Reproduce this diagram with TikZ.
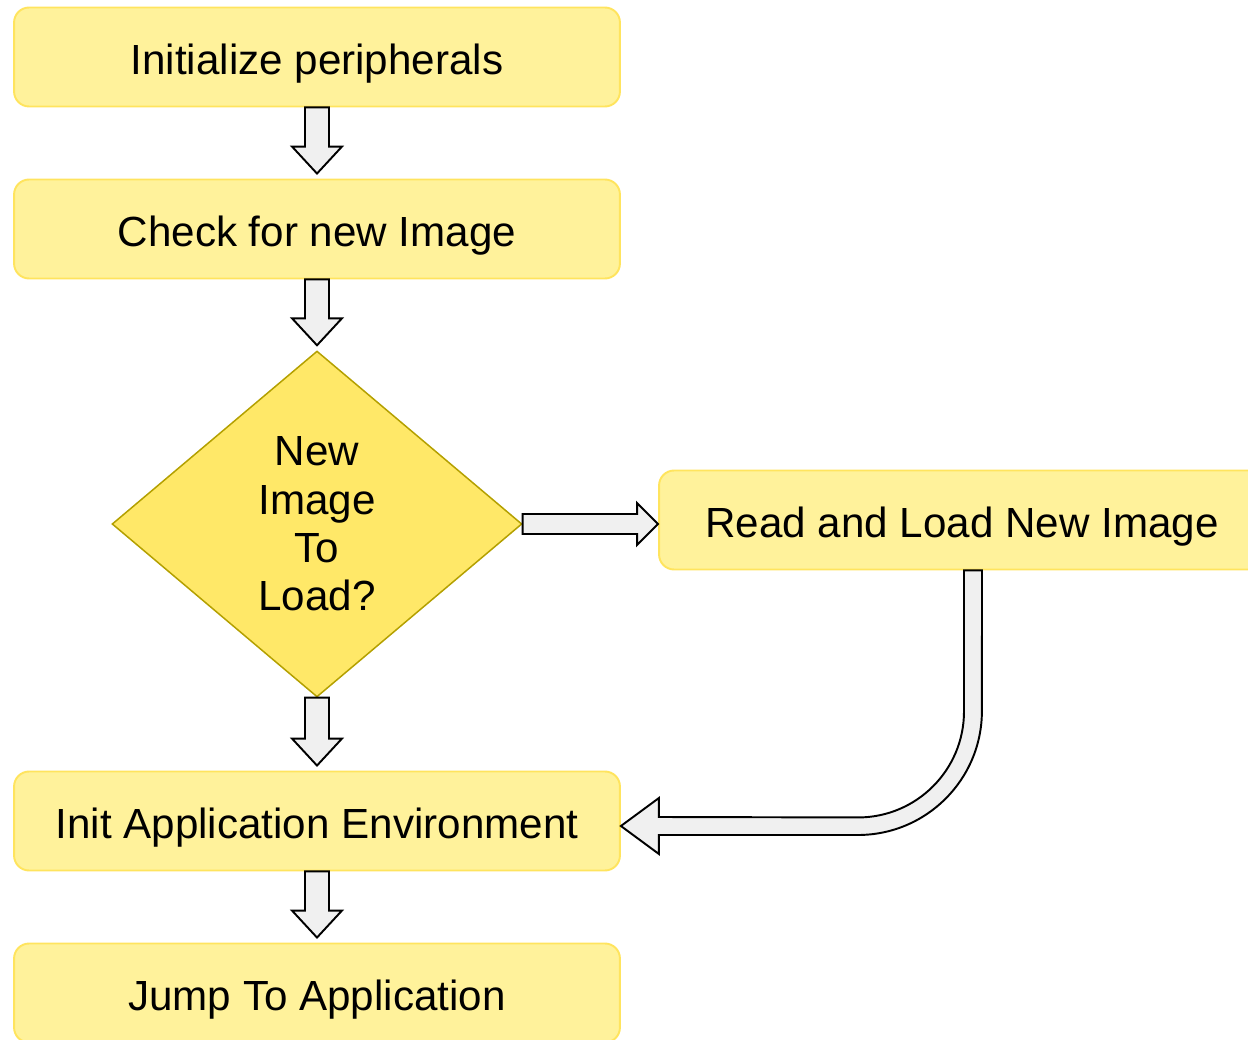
\documentclass[tikz,border=0pt]{standalone}
\usepackage{fontspec}
\setmainfont{Liberation Sans}
\usetikzlibrary{calc,shapes.geometric}

\definecolor{stepfill}{HTML}{FFF29B}
\definecolor{stepline}{HTML}{FFE45E}
\definecolor{askfill}{HTML}{FFE868}
\definecolor{askline}{HTML}{B4A000}
\definecolor{arrowfill}{HTML}{F0F0F0}

\tikzset{
  stepbox/.style={draw=stepline, fill=stepfill, line width=1.1pt, rounded corners=0.3cm,
    minimum width=12.12cm, minimum height=1.98cm, text height=20pt, text depth=0pt,
    font=\fontsize{24}{27.5}\selectfont},
  askbox/.style={diamond, draw=askline, fill=askfill, line width=0.85pt, inner sep=0pt,
    minimum width=8.2cm, minimum height=6.92cm, align=center, font=\fontsize{24}{27.5}\selectfont},
  bigarrow/.style={draw=black, fill=arrowfill, line width=1.1pt, line join=miter},
  % hollow block arrow pointing down, from a south anchor to a north anchor
  downarrow/.style={bigarrow, to path={($(\tikztostart)+(-12,0)$) -- ($(\tikztotarget)+(-12,-32)$)
    -- ++(-13,0) -- ($(\tikztotarget)+(0,-5)$) -- ($(\tikztotarget)+(25,-32)$) -- ++(-13,0)
    -- ($(\tikztostart)+(12,0)$) -- cycle}}
}

\begin{document}
\begin{tikzpicture}[x=0.02cm, y=-0.02cm]
  \useasboundingbox (0,0) rectangle (1248,1040);

  \node[stepbox] (init) at (317,57) {Initialize peripherals};
  \node[stepbox] (check) at (317,229) {Check for new Image};
  \node[askbox] (newimg) at (317,524) {New\\Image\\To\\Load?};
  \node[stepbox] (read) at (962,520) {Read and Load New Image};
  \node[stepbox] (initapp) at (317,821) {Init Application Environment};
  \node[stepbox] (jump) at (317,993) {Jump To Application};

  \draw[downarrow] (init.south) to (check.north);
  \draw[downarrow] (check.south) to (newimg.north);
  \draw[downarrow] (newimg.south) to (initapp.north);
  \draw[downarrow] (initapp.south) to (jump.north);

  % yes branch
  \draw[bigarrow] ($(newimg.east)+(0,-10)$) -- ($(newimg.east -| read.west)+(-21,-10)$) -- ++(0,-11)
    -- (newimg.east -| read.west) -- ++(-21,21) -- ++(0,-11) -- ($(newimg.east)+(0,10)$) -- cycle;

  % back from loading into the init step
  \draw[bigarrow] ($(read.south)+(2,0)$) -- ++(0,141) arc[start angle=0, end angle=90, radius=106]
    -- ($(initapp.east)+(38,-4)$) -- ++(0,-19) -- ($(initapp.east)+(0,5)$) -- ++(38,28) -- ++(0,-19)
    -- ++(199,0) arc[start angle=90, end angle=0, radius=124] -- ($(read.south)+(20,0)$) -- cycle;
\end{tikzpicture}
\end{document}
